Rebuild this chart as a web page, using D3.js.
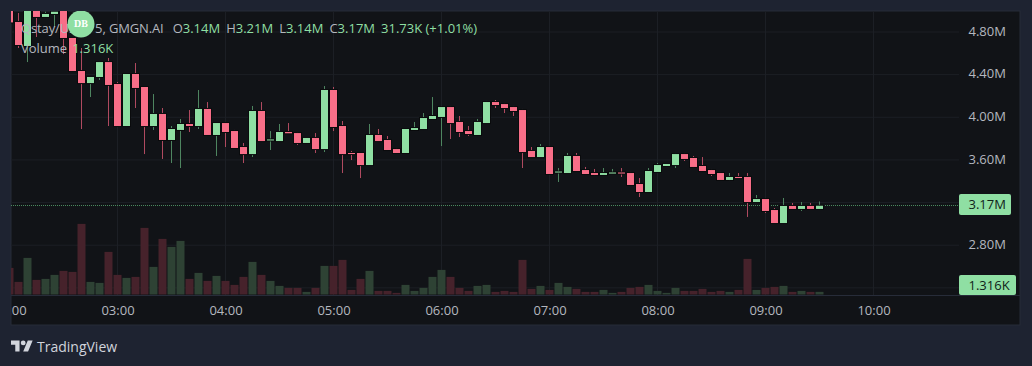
<!DOCTYPE html>
<html>
<head>
<meta charset="utf-8">
<script src="https://cdn.jsdelivr.net/npm/d3@7"></script>
<style>
  html, body { margin: 0; padding: 0; background: #1e2331; overflow: hidden; }
  svg { display: block; font-family: "Open Sans", sans-serif; }
</style>
</head>
<body>
<div id="chart"></div>
<script>
// values in millions, one per 5 minute bar starting at 02:00
const opens = [
  5.03, 4.894, 4.669, 5.02, 4.941, 4.969, 5.0, 4.744, 4.434, 4.321,
  4.378, 4.518, 4.312, 3.918, 4.406, 4.284, 3.918, 4.031, 3.787, 3.881,
  3.937, 3.918, 4.078, 3.834, 3.946, 3.871, 3.721, 3.655, 4.059, 3.783,
  3.777, 3.862, 3.852, 3.759, 3.806, 3.702, 4.256, 3.918, 3.665, 3.665,
  3.552, 3.834, 3.787, 3.702, 3.665, 3.881, 3.89, 3.984, 4.003, 4.096,
  3.956, 3.871, 3.834, 3.946, 4.143, 4.124, 4.096, 4.068, 3.684, 3.627,
  3.721, 3.482, 3.477, 3.637, 3.505, 3.477, 3.459, 3.472, 3.482, 3.477,
  3.374, 3.299, 3.487, 3.543, 3.552, 3.655, 3.618, 3.543, 3.505, 3.477,
  3.412, 3.44, 3.44, 3.205, 3.233, 3.13, 3.008, 3.168, 3.14, 3.168,
  3.14
];
const highs = [
  5.05, 4.978, 5.05, 5.04, 4.99, 4.99, 5.02, 4.75, 4.65, 4.378,
  4.525, 4.556, 4.331, 4.415, 4.509, 4.293, 4.218, 4.087, 3.918, 3.984,
  4.068, 4.256, 4.143, 3.946, 3.946, 3.881, 3.759, 4.106, 4.143, 3.871,
  3.937, 3.946, 3.862, 3.815, 3.852, 4.293, 4.284, 3.965, 3.684, 3.674,
  3.937, 3.89, 3.824, 3.712, 3.899, 3.956, 4.04, 4.19, 4.106, 4.106,
  4.012, 3.918, 3.984, 4.153, 4.162, 4.134, 4.106, 4.078, 3.721, 3.749,
  3.73, 3.524, 3.665, 3.665, 3.534, 3.515, 3.524, 3.515, 3.524, 3.487,
  3.43, 3.524, 3.571, 3.571, 3.665, 3.665, 3.637, 3.627, 3.515, 3.487,
  3.477, 3.477, 3.477, 3.271, 3.243, 3.149, 3.243, 3.196, 3.205, 3.196,
  3.21
];
const lows = [
  4.89, 4.65, 4.518, 4.753, 4.941, 4.847, 4.593, 4.425, 3.89, 4.19,
  4.35, 3.918, 3.909, 3.918, 4.087, 3.655, 3.881, 3.609, 3.571, 3.524,
  3.862, 3.89, 3.834, 3.637, 3.721, 3.712, 3.571, 3.627, 3.777, 3.693,
  3.777, 3.852, 3.74, 3.759, 3.665, 3.674, 3.871, 3.477, 3.599, 3.43,
  3.552, 3.777, 3.693, 3.665, 3.665, 3.881, 3.89, 3.984, 3.73, 3.796,
  3.815, 3.824, 3.834, 3.946, 4.087, 4.04, 4.012, 3.524, 3.627, 3.627,
  3.468, 3.393, 3.477, 3.496, 3.468, 3.449, 3.459, 3.468, 3.44, 3.36,
  3.252, 3.299, 3.487, 3.534, 3.524, 3.59, 3.524, 3.496, 3.449, 3.412,
  3.402, 3.421, 3.065, 3.205, 3.102, 3.008, 3.008, 3.14, 3.121, 3.14,
  3.14
];
const closes = [
  4.89, 4.678, 5.025, 4.941, 4.969, 4.99, 4.744, 4.434, 4.321, 4.378,
  4.518, 4.303, 3.918, 4.406, 4.275, 3.918, 4.031, 3.787, 3.89, 3.937,
  3.918, 4.078, 3.834, 3.946, 3.862, 3.712, 3.655, 4.059, 3.777, 3.792,
  3.862, 3.85, 3.759, 3.806, 3.702, 4.256, 3.909, 3.655, 3.655, 3.552,
  3.834, 3.777, 3.693, 3.665, 3.89, 3.899, 3.993, 4.012, 4.096, 3.946,
  3.862, 3.843, 3.956, 4.143, 4.115, 4.087, 4.059, 3.674, 3.627, 3.721,
  3.468, 3.491, 3.637, 3.496, 3.468, 3.459, 3.477, 3.482, 3.472, 3.365,
  3.299, 3.496, 3.552, 3.562, 3.655, 3.609, 3.534, 3.496, 3.468, 3.412,
  3.44, 3.43, 3.205, 3.233, 3.121, 3.008, 3.168, 3.14, 3.168, 3.14,
  3.17
];
// volume in thousands
const volumes = [
  13.3, 6.3, 18.3, 7.3, 7.8, 9.8, 11.8, 11.3, 35.3, 6.3,
  5.8, 21.3, 9.8, 8.3, 8.8, 33.3, 13.8, 27.8, 23.8, 26.8,
  7.8, 10.8, 6.8, 9.3, 6.8, 4.8, 8.8, 16.3, 9.8, 6.8,
  4.3, 3.3, 3.3, 1.3, 3.3, 14.3, 14.3, 17.3, 2.3, 7.8,
  11.8, 1.8, 1.8, 0.8, 4.8, 1.8, 3.3, 8.8, 12.3, 8.8,
  3.3, 1.8, 4.3, 4.8, 1.3, 1.8, 1.3, 17.3, 2.8, 4.3,
  2.3, 5.8, 3.8, 2.8, 1.3, 1.3, 2.3, 0.8, 1.3, 3.3,
  3.8, 4.8, 1.8, 0.8, 3.3, 1.8, 1.8, 2.8, 1.3, 1.8,
  1.3, 2.3, 17.8, 2.3, 3.3, 3.8, 4.3, 1.3, 1.8, 1.3,
  1.316
];
const priceTicks = [2.4, 2.8, 3.2, 3.6, 4.0, 4.4, 4.8];
const hiddenPriceTicks = [2.4, 3.2]; // sit under the two value tags
const timeTicks = ["02:00", "03:00", "04:00", "05:00", "06:00", "07:00", "08:00", "09:00", "10:00"];

const width = 1032;
const height = 366;
const pane = { left: 11, top: 11, right: 959, bottom: 295 };
const frame = { right: 1020, bottom: 325 };

const upColor = "#8fdfa3";
const downColor = "#f86e88";
const upVolume = "#2e4234";
const downVolume = "#46222b";
const gridColor = "#1c1f25";
const textColor = "#b4b7bf";

const toMinutes = (label) => +label.slice(0, 2) * 60;
const barMinutes = (i) => 120 + i * 5;

const x = d3.scaleLinear().domain([120, 600]).range([9.5, 873.5]);
const yPrice = d3.scaleLinear().domain([2.8, 4.8]).range([245.2, 32]);
const yVolume = d3.scaleLinear().domain([0, 40]).range([294.5, 214.5]);

const svg = d3
  .select("#chart")
  .append("svg")
  .attr("width", width)
  .attr("height", height);

svg
  .append("rect")
  .attr("x", pane.left)
  .attr("y", pane.top)
  .attr("width", frame.right - pane.left)
  .attr("height", frame.bottom - pane.top)
  .attr("fill", "#111317")
  .attr("stroke", "#272c39");

svg
  .append("clipPath")
  .attr("id", "pane-clip")
  .append("rect")
  .attr("x", pane.left)
  .attr("y", pane.top)
  .attr("width", pane.right - pane.left)
  .attr("height", pane.bottom - pane.top);

const plot = svg.append("g").attr("clip-path", "url(#pane-clip)");

// grid
plot
  .append("g")
  .selectAll("line")
  .data(priceTicks)
  .enter()
  .append("line")
  .attr("x1", pane.left)
  .attr("x2", pane.right)
  .attr("y1", (d) => yPrice(d))
  .attr("y2", (d) => yPrice(d))
  .attr("stroke", gridColor);

plot
  .append("g")
  .selectAll("line")
  .data(timeTicks)
  .enter()
  .append("line")
  .attr("x1", (d) => x(toMinutes(d)))
  .attr("x2", (d) => x(toMinutes(d)))
  .attr("y1", pane.top)
  .attr("y2", pane.bottom)
  .attr("stroke", gridColor);

// volume
plot
  .append("g")
  .selectAll("rect")
  .data(volumes)
  .enter()
  .append("rect")
  .attr("x", (_, i) => x(barMinutes(i)) - 4)
  .attr("width", 8)
  .attr("y", (d) => yVolume(d))
  .attr("height", (d) => yVolume(0) - yVolume(d))
  .attr("fill", (_, i) => (closes[i] >= opens[i] ? upVolume : downVolume));

// last price line
plot
  .append("line")
  .attr("x1", pane.left)
  .attr("x2", pane.right)
  .attr("y1", yPrice(closes[closes.length - 1]))
  .attr("y2", yPrice(closes[closes.length - 1]))
  .attr("stroke", "#4a8a5e")
  .attr("stroke-dasharray", "1 1")
  .attr("shape-rendering", "crispEdges");

// candles
const candles = plot
  .append("g")
  .selectAll("g")
  .data(opens)
  .enter()
  .append("g");

candles
  .append("line")
  .attr("x1", (_, i) => x(barMinutes(i)))
  .attr("x2", (_, i) => x(barMinutes(i)))
  .attr("y1", (_, i) => yPrice(highs[i]))
  .attr("y2", (_, i) => yPrice(lows[i]))
  .attr("stroke", (_, i) => (closes[i] >= opens[i] ? "#4e8560" : "#b04a60"));

candles
  .append("rect")
  .attr("x", (_, i) => x(barMinutes(i)) - 3.5)
  .attr("width", 7)
  .attr("y", (_, i) => yPrice(Math.max(opens[i], closes[i])))
  .attr("height", (_, i) =>
    Math.max(1, Math.abs(yPrice(opens[i]) - yPrice(closes[i])))
  )
  .attr("fill", (_, i) => (closes[i] >= opens[i] ? upColor : downColor))
  .attr("stroke", "#0a0b0d")
  .attr("stroke-width", 2)
  .style("paint-order", "stroke");

// legend text
const legend = svg.append("g").attr("font-size", 13).attr("font-weight", 500);

const ohlc = [
  ["O", "3.14M"],
  ["H", "3.21M"],
  ["L", "3.14M"],
  ["C", "3.17M"],
];

const title = legend
  .append("text")
  .attr("x", 21)
  .attr("y", 33)
  .attr("fill", textColor);
title
  .append("tspan")
  .attr("letter-spacing", "-0.13px")
  .text("Qstay/USD · 5, GMGN.AI");
ohlc.forEach(([key, value], i) => {
  title
    .append("tspan")
    .attr("dx", i === 0 ? 9 : 6)
    .text(key);
  title.append("tspan").attr("fill", upColor).text(value);
});
title
  .append("tspan")
  .attr("dx", 6)
  .attr("fill", upColor)
  .text("31.73K (+1.01%)");

const volumeTitle = legend
  .append("text")
  .attr("x", 21)
  .attr("y", 53)
  .attr("fill", textColor);
volumeTitle.append("tspan").text("Volume");
volumeTitle.append("tspan").attr("dx", 5).attr("fill", upColor).text("1.316K");

// badge over the legend
const badge = svg.append("g").attr("clip-path", "url(#pane-clip)");
badge
  .append("circle")
  .attr("cx", 81)
  .attr("cy", 24)
  .attr("r", 13.5)
  .attr("fill", "#8fdfa3");
badge
  .append("text")
  .attr("x", 81)
  .attr("y", 27)
  .attr("text-anchor", "middle")
  .attr("font-family", "'Liberation Serif', serif")
  .attr("font-weight", 700)
  .attr("font-size", 10)
  .attr("fill", "#ffffff")
  .text("DB");

// axes
const priceAxis = d3
  .axisRight(yPrice)
  .tickValues(priceTicks)
  .tickSize(0)
  .tickPadding(0)
  .tickFormat((d) =>
    hiddenPriceTicks.includes(d) ? "" : d3.format(".2f")(d) + "M"
  );

svg
  .append("g")
  .attr("transform", "translate(968.5, -1)")
  .call(priceAxis)
  .call((g) => g.select(".domain").remove())
  .selectAll("text")
  .attr("fill", textColor)
  .attr("font-size", 13)
  .attr("font-weight", 500)
  .attr("font-family", "'Open Sans', sans-serif");

svg
  .append("clipPath")
  .attr("id", "time-clip")
  .append("rect")
  .attr("x", pane.left)
  .attr("y", pane.bottom)
  .attr("width", pane.right - pane.left)
  .attr("height", frame.bottom - pane.bottom);

const timeAxis = d3
  .axisBottom(x)
  .tickValues(timeTicks.map(toMinutes))
  .tickSize(0)
  .tickPadding(11)
  .tickFormat((d) => timeTicks.find((t) => toMinutes(t) === d));

svg
  .append("g")
  .attr("clip-path", "url(#time-clip)")
  .append("g")
  .attr("transform", `translate(0, ${pane.bottom})`)
  .call(timeAxis)
  .call((g) => g.select(".domain").remove())
  .selectAll("text")
  .attr("fill", textColor)
  .attr("font-size", 13)
  .attr("font-weight", 500)
  .attr("font-family", "'Open Sans', sans-serif");

svg
  .append("line")
  .attr("x1", pane.left)
  .attr("x2", frame.right)
  .attr("y1", pane.bottom + 0.5)
  .attr("y2", pane.bottom + 0.5)
  .attr("stroke", "#272c39");

// value tags
const tags = [
  { text: "3.17M", y: 194, w: 52, h: 21 },
  { text: "1.316K", y: 275, w: 57, h: 20 },
];
const tag = svg
  .append("g")
  .selectAll("g")
  .data(tags)
  .enter()
  .append("g");
tag
  .append("rect")
  .attr("x", pane.right)
  .attr("y", (d) => d.y)
  .attr("width", (d) => d.w)
  .attr("height", (d) => d.h)
  .attr("rx", 2)
  .attr("fill", upColor);
tag
  .append("text")
  .attr("x", 968.5)
  .attr("y", (d) => d.y + d.h / 2 + 4.5)
  .attr("font-size", 13)
  .attr("font-weight", 500)
  .attr("fill", "#10231a")
  .text((d) => d.text);

// tradingview mark
svg
  .append("g")
  .attr("transform", "translate(11, 338) scale(0.61)")
  .attr("fill", "#d1d4dc")
  .call((g) => {
    g.append("path").attr("d", "M14 22H7V11H0V4h14v18zM28 22h-8l7.5-18h8L28 22z");
    g.append("circle").attr("cx", 20).attr("cy", 8).attr("r", 4);
  });

svg
  .append("text")
  .attr("x", 37)
  .attr("y", 352)
  .attr("font-size", 14)
  .attr("font-weight", 500)
  .attr("fill", "#d1d4dc")
  .text("TradingView");
</script>
</body>
</html>
